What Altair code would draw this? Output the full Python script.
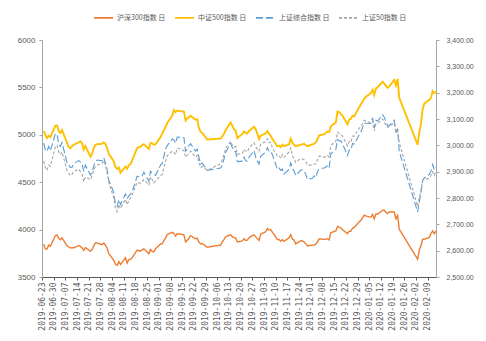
import altair as alt
import pandas as pd

# ---- data -------------------------------------------------------------
holidays = ["2019-09-13", "2019-10-01", "2019-10-02", "2019-10-03", "2019-10-04",
            "2019-10-07", "2020-01-01", "2020-01-24", "2020-01-27", "2020-01-28",
            "2020-01-29", "2020-01-30", "2020-01-31"]
dates = [d.strftime("%Y-%m-%d") for d in pd.bdate_range("2019-06-24", "2020-02-14")
         if d.strftime("%Y-%m-%d") not in holidays]

names = ["沪深300指数 日", "中证500指数 日", "上证综合指数 日", "上证50指数 日"]

hs300 = [
    3847, 3794, 3794, 3836, 3825,
    3935, 3943, 3910, 3894, 3913,
    3829, 3819, 3806, 3809, 3808,
    3831, 3822, 3808, 3781, 3809,
    3773, 3788, 3830, 3858, 3858,
    3842, 3858, 3835, 3803, 3747,
    3675, 3634, 3622, 3663, 3633,
    3702, 3647, 3683, 3687, 3704,
    3784, 3777, 3774, 3784, 3798,
    3746, 3790, 3771, 3764, 3799,
    3848, 3852, 3883, 3911, 3948,
    3972, 3960, 3933, 3957,
    3945, 3870, 3888, 3906, 3936,
    3903, 3910, 3866, 3850, 3852,
    3814, 3837, 3870, 3895, 3925,
    3945, 3925, 3915, 3912, 3870,
    3880, 3903, 3886, 3890, 3915,
    3945, 3924, 3904, 3886, 3952,
    3977, 4012, 3996, 4000, 3973,
    3895, 3895, 3877, 3893, 3877,
    3914, 3947, 3901, 3889, 3849,
    3883, 3880, 3869, 3851, 3828,
    3837, 3836, 3849, 3870, 3902,
    3897, 3900, 3903, 3891, 3968,
    3985, 4033, 4027, 4017, 3998,
    3957, 3983, 3982, 4015, 4022,
    4081, 4097, 4152, 4144,
    4130, 4161, 4113, 4165, 4163,
    4203, 4204, 4183, 4170, 4186,
    4185, 4114, 4149, 4004,
    3688, 3785, 3829, 3899, 3899,
    3917, 3959, 3986, 3957, 3987]

zz500 = [
    5040, 5000, 4965, 4990, 4975,
    5095, 5100, 5040, 5020, 5050,
    4915, 4870, 4858, 4880, 4895,
    4920, 4932, 4910, 4845, 4880,
    4770, 4800, 4860, 4895, 4900,
    4905, 4920, 4900, 4860, 4800,
    4720, 4660, 4640, 4655, 4600,
    4665, 4640, 4680, 4690, 4730,
    4860, 4870, 4875, 4890, 4900,
    4850, 4915, 4910, 4895, 4900,
    4975, 5010, 5050, 5080, 5125,
    5200, 5262, 5240, 5255,
    5245, 5150, 5170, 5185, 5200,
    5160, 5165, 5070, 5030, 5020,
    4950, 4960, 4985, 5010, 5050,
    5130, 5095, 5060, 5045, 4965,
    5010, 5035, 5020, 5015, 5040,
    5085, 5060, 5010, 4955, 4990,
    5015, 5040, 5010, 4990, 4955,
    4880, 4885, 4870, 4895, 4880,
    4900, 4960, 4915, 4895, 4880,
    4895, 4900, 4905, 4890, 4880,
    4900, 4905, 4920, 4950, 4995,
    5005, 5020, 5035, 5030, 5090,
    5130, 5245, 5240, 5220, 5200,
    5110, 5160, 5170, 5200, 5195,
    5290, 5320, 5380, 5400,
    5440, 5475, 5420, 5490, 5500,
    5560, 5540, 5520, 5495, 5510,
    5580, 5520, 5590, 5390,
    4895, 5030, 5110, 5270, 5330,
    5370, 5390, 5460, 5440, 5455]

szzs = [
    3008, 2982, 2977, 2996, 2979,
    3044, 3043, 3005, 2996, 3011,
    2934, 2928, 2916, 2917, 2930,
    2942, 2937, 2931, 2901, 2925,
    2887, 2899, 2923, 2938, 2944,
    2941, 2953, 2932, 2908, 2868,
    2821, 2777, 2768, 2794, 2775,
    2815, 2797, 2808, 2815, 2824,
    2883, 2881, 2880, 2884, 2898,
    2864, 2902, 2893, 2890, 2886,
    2925, 2931, 2958, 2985, 2999,
    3024, 3021, 3008, 3031,
    3030, 2978, 2985, 2999, 3006,
    2978, 2985, 2955, 2929, 2932,
    2905, 2914, 2924, 2948, 2973,
    3008, 2991, 2978, 2977, 2938,
    2940, 2955, 2941, 2940, 2955,
    2980, 2955, 2940, 2929, 2958,
    2975, 2991, 2978, 2979, 2964,
    2909, 2914, 2905, 2910, 2891,
    2909, 2933, 2911, 2903, 2885,
    2906, 2907, 2903, 2889, 2871,
    2875, 2884, 2878, 2899, 2912,
    2914, 2917, 2924, 2915, 2968,
    2984, 3022, 3017, 3017, 3005,
    2962, 2982, 2981, 3007, 3005,
    3040, 3050, 3085, 3084,
    3083, 3104, 3066, 3095, 3092,
    3116, 3107, 3090, 3075, 3075,
    3095, 3053, 3061, 2977,
    2747, 2784, 2818, 2867, 2876,
    2890, 2902, 2927, 2907, 2917]

sz50 = [
    2940, 2915, 2905, 2925, 2920,
    2995, 3000, 2975, 2965, 2975,
    2905, 2895, 2885, 2890, 2900,
    2910, 2900, 2890, 2862, 2880,
    2870, 2885, 2905, 2920, 2925,
    2930, 2942, 2925, 2895, 2860,
    2800, 2760, 2748, 2775, 2760,
    2795, 2775, 2790, 2800, 2812,
    2860, 2858, 2855, 2862, 2870,
    2850, 2880, 2870, 2857, 2865,
    2885, 2890, 2915, 2940, 2960,
    2978, 2975, 2965, 2990,
    2980, 2955, 2962, 2970, 2978,
    2955, 2962, 2935, 2915, 2920,
    2905, 2930, 2945, 2965, 2990,
    3015, 3000, 2993, 2996, 2965,
    2970, 2985, 2978, 2975, 2990,
    3010, 2995, 2985, 2978, 3005,
    3015, 3025, 3010, 3012, 2990,
    2960, 2962, 2950, 2965, 2955,
    2975, 2990, 2960, 2950, 2935,
    2950, 2948, 2945, 2938, 2925,
    2925, 2928, 2930, 2945, 2960,
    2955, 2958, 2962, 2955, 3000,
    3015, 3050, 3045, 3042, 3035,
    2998, 3015, 3012, 3035, 3035,
    3065, 3070, 3095, 3092,
    3085, 3092, 3055, 3080, 3082,
    3100, 3090, 3075, 3068, 3072,
    3085, 3045, 3062, 3010,
    2768, 2800, 2830, 2868, 2870,
    2875, 2885, 2900, 2885, 2902]

left_ticks = [3500, 4000, 4500, 5000, 5500, 6000]
right_ticks = [2500, 2600, 2700, 2800, 2900, 3000, 3100, 3200, 3300, 3400]
x_tick_dates = [d.strftime("%Y-%m-%d") for d in pd.date_range("2019-06-23", "2020-02-09", freq="7D")]

# ---- styling ----------------------------------------------------------
colors = ["#ED7D31", "#FFC000", "#5B9BD5", "#A5A5A5"]
dashes = [[1, 0], [1, 0], [7, 3], [3, 2]]
widths = [1.4, 1.9, 1.1, 1.1]

rows = []
for s, vals in zip(names, [hs300, zz500, szzs, sz50]):
    for d, v in zip(dates, vals):
        rows.append({"date": d, "series": s, "value": v})
df = pd.DataFrame(rows)


def ms(s):
    return int(pd.Timestamp(s).value // 10**6)


x_enc = alt.X(
    "date:T",
    scale=alt.Scale(type="utc", domain=[ms("2019-06-23"), ms("2020-02-14")]),
    axis=alt.Axis(
        title=None,
        values=[ms(d) for d in x_tick_dates],
        labelExpr="utcFormat(datum.value, '%Y-%m-%d')",
        labelAngle=270,
        labelFont="DejaVu Sans Mono",
        labelFontSize=8,
        labelColor="#595959",
        labelPadding=2,
        domainColor="#595959",
        tickColor="#595959",
        tickSize=3,
        grid=False,
        labelOverlap=False,
        labelBound=False,
    ),
)

legend = alt.Legend(title=None, orient="none", direction="horizontal",
                    legendX=51, legendY=-33)

color_enc = alt.Color("series:N", scale=alt.Scale(domain=names, range=colors), legend=legend)
dash_enc = alt.StrokeDash("series:N", scale=alt.Scale(domain=names, range=dashes), legend=legend)

left_axis = alt.Axis(
    title=None, orient="left", values=left_ticks, format="d",
    labelFont="Liberation Sans", labelFontSize=8, labelColor="#595959",
    domainColor="#A6A6A6", tickColor="#A6A6A6", tickSize=3,
    labelPadding=4, grid=False,
)
right_axis = alt.Axis(
    title=None, orient="right", values=right_ticks, format=",.2f",
    labelFont="Liberation Sans", labelFontSize=7, labelColor="#595959",
    domainColor="#A6A6A6", tickColor="#A6A6A6", tickSize=3,
    labelPadding=7, grid=False,
)
y_left = alt.Y("value:Q", scale=alt.Scale(domain=[3500, 6000], nice=False, zero=False), axis=left_axis)
y_right = alt.Y("value:Q", scale=alt.Scale(domain=[2500, 3400], nice=False, zero=False), axis=right_axis)

base = alt.Chart(df)


def series_layer(i, y_enc):
    return base.transform_filter(
        alt.FieldEqualPredicate(field="series", equal=names[i])
    ).mark_line(strokeWidth=widths[i]).encode(
        x=x_enc, y=y_enc, color=color_enc, strokeDash=dash_enc,
        order=alt.Order("date:T"),
    )


left = alt.layer(series_layer(0, y_left), series_layer(1, y_left))
right = alt.layer(series_layer(2, y_right), series_layer(3, y_right))

chart = alt.layer(left, right).resolve_scale(y="independent").properties(
    width=394,
    height=237,
    autosize=alt.AutoSizeParams(type="none"),
    padding={"left": 42, "top": 40, "right": 50, "bottom": 64},
    background="white",
).configure_view(stroke=None).configure_legend(
    symbolType="stroke",
    symbolSize=361,
    symbolStrokeWidth=1.8,
    labelFont="Noto Sans CJK SC",
    labelFontSize=7,
    labelColor="#595959",
    labelOffset=3,
    columnPadding=5,
    gridAlign="each",
)

chart.save("out.html", embed_options={"renderer": "svg", "actions": False})
